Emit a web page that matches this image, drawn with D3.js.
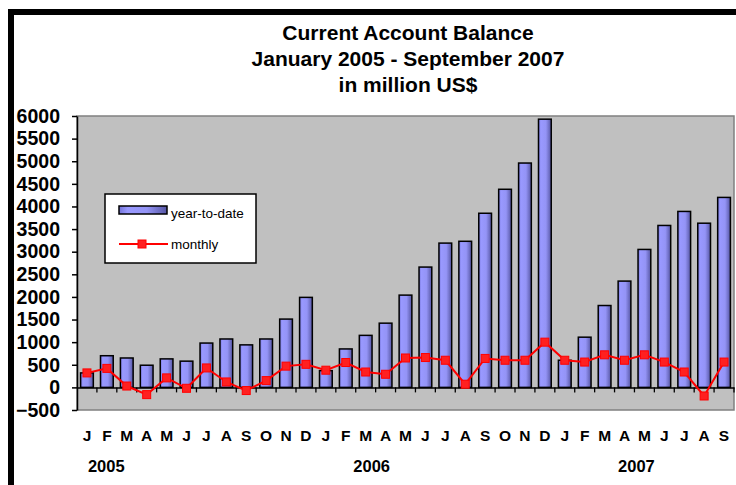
<!DOCTYPE html>
<html>
<head>
<meta charset="utf-8">
<script src="https://cdn.jsdelivr.net/npm/d3@7"></script>
<style>
	body { margin: 0; background: #fff; }
	svg { display: block; font-family: "Liberation Sans", Arial, sans-serif; }
</style>
</head>
<body>
<svg id="chart" width="736" height="485"></svg>
<script>
const months = ["J","F","M","A","M","J","J","A","S","O","N","D",
	"J","F","M","A","M","J","J","A","S","O","N","D",
	"J","F","M","A","M","J","J","A","S"];
const ytd = [320, 700, 650, 490, 630, 580, 980, 1070, 940, 1070, 1510, 1990,
	370, 850, 1150, 1420, 2040, 2660, 3190, 3230, 3850, 4380, 4960, 5930,
	600, 1110, 1810, 2350, 3050, 3580, 3890, 3630, 4200];
const monthly = [320, 420, 30, -160, 210, -20, 430, 120, -70, 150, 470, 510,
	380, 550, 340, 290, 650, 660, 600, 70, 640, 600, 600, 1000,
	600, 560, 720, 600, 720, 560, 340, -190, 560];
const years = ["2005", "2006", "2007"];
const yTicks = d3.range(-500, 6001, 500);

const svg = d3.select('#chart');
const plot = { left: 77, right: 734, top: 116, bottom: 410 };

// outer frame, runs off the right and bottom
svg.append('rect')
	.attr('x', 11).attr('y', 12)
	.attr('width', 760).attr('height', 500)
	.attr('fill', 'none')
	.attr('stroke', '#000')
	.attr('stroke-width', 6);

const defs = svg.append('defs');
const grad = defs.append('linearGradient').attr('id', 'barGrad');
grad.append('stop').attr('offset', '0%').attr('stop-color', '#7474d8');
grad.append('stop').attr('offset', '18%').attr('stop-color', '#9999ff');
grad.append('stop').attr('offset', '58%').attr('stop-color', '#9494f6');
grad.append('stop').attr('offset', '100%').attr('stop-color', '#5656a4');

const x = d3.scaleBand()
	.domain(d3.range(months.length))
	.range([plot.left, plot.right])
	.paddingInner(0.36)
	.paddingOuter(0.18);

const y = d3.scaleLinear()
	.domain([-500, 6000])
	.range([plot.bottom, plot.top]);

// titles
['Current Account Balance', 'January 2005 - September 2007', 'in million US$'].forEach((t, i) => {
	svg.append('text')
		.attr('x', 408)
		.attr('y', 40 + i * 26.2)
		.attr('text-anchor', 'middle')
		.attr('font-size', 21)
		.attr('font-weight', 'bold')
		.text(t);
});

// plot area
svg.append('rect')
	.attr('x', plot.left).attr('y', plot.top)
	.attr('width', plot.right - plot.left)
	.attr('height', plot.bottom - plot.top)
	.attr('fill', '#c0c0c0')
	.attr('stroke', '#808080')
	.attr('stroke-width', 1.5);

// bars
svg.append('g')
	.selectAll('rect')
	.data(ytd)
	.enter()
	.append('rect')
	.attr('x', (d, i) => x(i))
	.attr('width', x.bandwidth())
	.attr('y', d => y(Math.max(d, 0)))
	.attr('height', d => Math.abs(y(d) - y(0)))
	.attr('fill', 'url(#barGrad)')
	.attr('stroke', '#000')
	.attr('stroke-width', 1.5);

// x axis line at zero with ticks between categories
const step = x.step();
const xAxis = d3.axisBottom(x)
	.tickValues([])
	.tickSizeOuter(0);
const xg = svg.append('g')
	.attr('transform', `translate(0, ${y(0)})`)
	.call(xAxis);
xg.select('.domain').attr('stroke', '#000').attr('stroke-width', 1.5);
xg.selectAll('line.sep')
	.data(d3.range(1, months.length + 1))
	.enter()
	.append('line')
	.attr('class', 'sep')
	.attr('x1', i => plot.left + i * step)
	.attr('x2', i => plot.left + i * step)
	.attr('y1', 0).attr('y2', 5)
	.attr('stroke', '#000')
	.attr('stroke-width', 1.3);

// y axis
const yAxis = d3.axisLeft(y)
	.tickValues(yTicks)
	.tickSize(5)
	.tickSizeOuter(0)
	.tickPadding(12)
	.tickFormat(d3.format('d'));
const yg = svg.append('g')
	.attr('transform', `translate(${plot.left}, 0)`)
	.call(yAxis);
yg.select('.domain').attr('stroke', '#000').attr('stroke-width', 1.5);
yg.selectAll('.tick line').attr('stroke', '#000').attr('stroke-width', 1.5);
yg.selectAll('.tick text')
	.attr('fill', '#000')
	.attr('font-size', 19.5)
	.attr('font-weight', 'bold')
	.attr('font-family', '"Liberation Sans", Arial, sans-serif');

// monthly line
const cx = i => x(i) + x.bandwidth() / 2;
svg.append('path')
	.datum(monthly)
	.attr('fill', 'none')
	.attr('stroke', '#ff0000')
	.attr('stroke-width', 2)
	.attr('d', d3.line().x((d, i) => cx(i)).y(d => y(d)));

svg.append('g')
	.selectAll('rect')
	.data(monthly)
	.enter()
	.append('rect')
	.attr('x', (d, i) => cx(i) - 4)
	.attr('y', d => y(d) - 4)
	.attr('width', 8).attr('height', 8)
	.attr('fill', '#ff2020')
	.attr('stroke', '#ff0000')
	.attr('stroke-width', 1);

// month labels
svg.append('g')
	.selectAll('text')
	.data(months)
	.enter()
	.append('text')
	.attr('x', (d, i) => cx(i))
	.attr('y', 441)
	.attr('text-anchor', 'middle')
	.attr('font-size', 15.5)
	.attr('font-weight', 'bold')
	.text(d => d);

// year labels
const yearAt = [0.97, 14.3, 27.6];
svg.append('g')
	.selectAll('text')
	.data(years)
	.enter()
	.append('text')
	.attr('x', (d, i) => cx(0) + yearAt[i] * step)
	.attr('y', 472)
	.attr('text-anchor', 'middle')
	.attr('font-size', 16.5)
	.attr('font-weight', 'bold')
	.text(d => d);

// legend
const legend = svg.append('g');
legend.append('rect')
	.attr('x', 105).attr('y', 194)
	.attr('width', 151).attr('height', 69)
	.attr('fill', '#fff')
	.attr('stroke', '#000')
	.attr('stroke-width', 1.5);
legend.append('rect')
	.attr('x', 119).attr('y', 206)
	.attr('width', 48).attr('height', 8)
	.attr('fill', 'url(#barGrad)')
	.attr('stroke', '#000')
	.attr('stroke-width', 1.5);
legend.append('text')
	.attr('x', 171).attr('y', 218)
	.attr('font-size', 13.5)
	.text('year-to-date');
legend.append('line')
	.attr('x1', 119).attr('x2', 168)
	.attr('y1', 244).attr('y2', 244)
	.attr('stroke', '#ff0000')
	.attr('stroke-width', 2);
legend.append('rect')
	.attr('x', 138).attr('y', 240)
	.attr('width', 8).attr('height', 8)
	.attr('fill', '#ff2020')
	.attr('stroke', '#ff0000');
legend.append('text')
	.attr('x', 171).attr('y', 249)
	.attr('font-size', 13.5)
	.text('monthly');
</script>
</body>
</html>
